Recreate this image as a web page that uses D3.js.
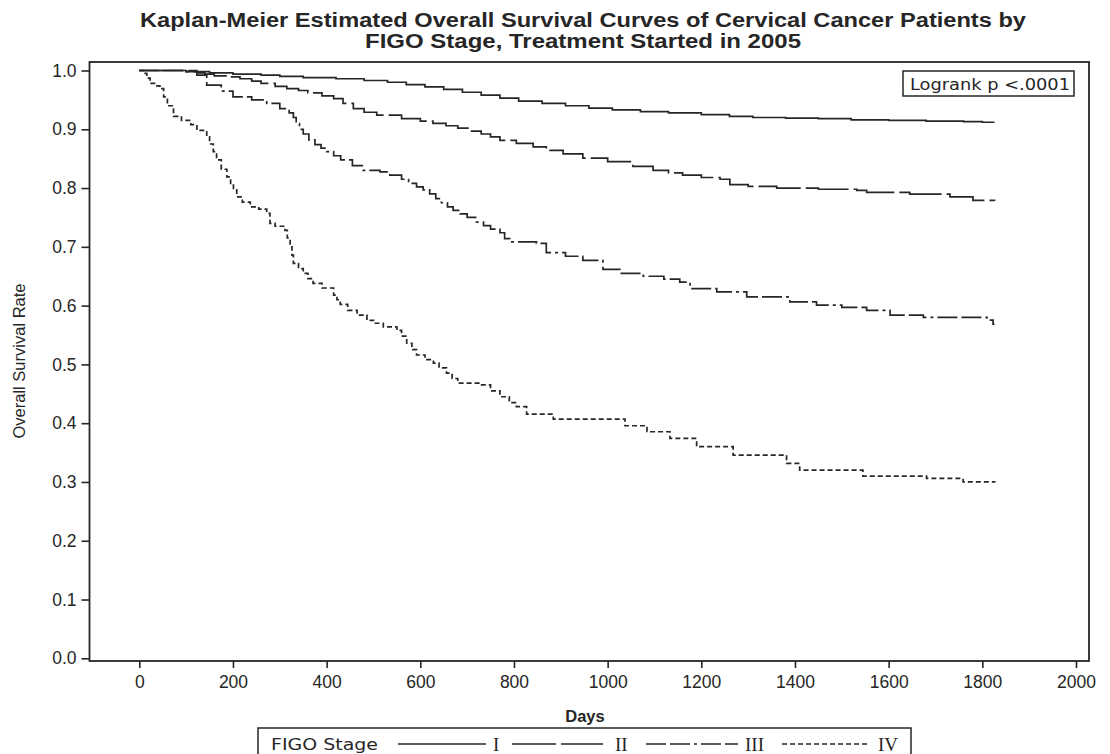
<!DOCTYPE html>
<html><head><meta charset="utf-8">
<script src="https://cdn.jsdelivr.net/npm/d3@7"></script>
<style>body{margin:0;background:#fff}svg{display:block}</style>
</head><body><svg id="c" width="1110" height="754"></svg>
<script>
// ---------------- data ----------------
const stages = ["I", "II", "III", "IV"];

const stageIDays = [0, 100, 150, 200, 260, 300, 350, 420, 480, 530, 570, 610, 650, 690, 730, 770, 810, 860, 910, 960, 1010, 1070, 1130, 1200, 1260, 1310, 1380, 1450, 1520, 1600, 1680, 1760, 1800, 1826];
const stageISurv = [1.0, 0.998, 0.996, 0.994, 0.992, 0.990, 0.988, 0.986, 0.983, 0.980, 0.976, 0.972, 0.968, 0.963, 0.958, 0.953, 0.948, 0.944, 0.940, 0.936, 0.933, 0.930, 0.928, 0.925, 0.922, 0.920, 0.919, 0.918, 0.916, 0.915, 0.914, 0.913, 0.912, 0.912];

const stageIIDays = [0, 123, 140, 160, 185, 215, 240, 260, 290, 315, 340, 360, 390, 415, 435, 457, 480, 507, 560, 600, 627, 655, 680, 705, 730, 750, 770, 805, 841, 869, 905, 947, 1000, 1054, 1097, 1130, 1160, 1200, 1240, 1261, 1300, 1361, 1450, 1532, 1553, 1645, 1731, 1780, 1826];
const stageIISurv = [1.0, 0.996, 0.994, 0.991, 0.989, 0.986, 0.982, 0.978, 0.973, 0.969, 0.966, 0.962, 0.957, 0.952, 0.944, 0.935, 0.929, 0.924, 0.918, 0.914, 0.910, 0.906, 0.902, 0.897, 0.892, 0.887, 0.881, 0.876, 0.870, 0.864, 0.858, 0.851, 0.845, 0.837, 0.830, 0.826, 0.822, 0.818, 0.815, 0.806, 0.803, 0.800, 0.798, 0.796, 0.7925, 0.7896, 0.785, 0.779, 0.778];

const stageIIIDays = [0, 100, 123, 144, 175, 200, 240, 272, 300, 320, 329, 335, 342, 350, 362, 375, 388, 400, 415, 430, 455, 478, 514, 535, 560, 575, 592, 606, 620, 633, 645, 658, 670, 685, 700, 718, 735, 750, 770, 780, 791, 848, 869, 910, 947, 990, 1026, 1076, 1120, 1154, 1176, 1233, 1297, 1389, 1446, 1500, 1553, 1603, 1674, 1810, 1823, 1826];
const stageIIISurv = [1.0, 0.998, 0.992, 0.975, 0.965, 0.955, 0.950, 0.944, 0.935, 0.928, 0.920, 0.910, 0.900, 0.892, 0.882, 0.874, 0.868, 0.862, 0.855, 0.848, 0.838, 0.830, 0.8275, 0.822, 0.815, 0.808, 0.802, 0.797, 0.790, 0.782, 0.775, 0.768, 0.762, 0.756, 0.750, 0.742, 0.736, 0.730, 0.724, 0.714, 0.7085, 0.706, 0.690, 0.684, 0.677, 0.6615, 0.655, 0.650, 0.645, 0.640, 0.629, 0.6235, 0.615, 0.6065, 0.601, 0.597, 0.592, 0.584, 0.580, 0.5753, 0.5685, 0.5685];

const stageIVDays = [0, 9, 16, 23, 35, 44, 52, 60, 73, 90, 110, 123, 144, 150, 158, 165, 175, 187, 195, 201, 208, 220, 237, 255, 272, 279, 290, 311, 316, 322, 326, 329, 340, 350, 360, 371, 390, 415, 422, 429, 445, 465, 486, 500, 521, 550, 560, 571, 582, 592, 610, 628, 640, 656, 668, 680, 727, 750, 770, 790, 805, 827, 884, 1037, 1084, 1133, 1190, 1268, 1382, 1410, 1545, 1681, 1759, 1828];
const stageIVSurv = [1.0, 0.995, 0.987, 0.978, 0.974, 0.969, 0.955, 0.940, 0.922, 0.915, 0.908, 0.898, 0.887, 0.875, 0.862, 0.848, 0.832, 0.819, 0.808, 0.797, 0.785, 0.776, 0.768, 0.764, 0.757, 0.740, 0.735, 0.728, 0.715, 0.700, 0.686, 0.672, 0.663, 0.655, 0.646, 0.638, 0.630, 0.618, 0.610, 0.602, 0.592, 0.584, 0.575, 0.570, 0.564, 0.558, 0.548, 0.536, 0.525, 0.516, 0.508, 0.502, 0.494, 0.485, 0.476, 0.468, 0.465, 0.455, 0.445, 0.435, 0.428, 0.4155, 0.407, 0.3956, 0.3854, 0.374, 0.360, 0.3457, 0.3316, 0.320, 0.310, 0.306, 0.300, 0.300];

const xTickValues = [0, 200, 400, 600, 800, 1000, 1200, 1400, 1600, 1800, 2000];
const yTickValues = [0, 0.1, 0.2, 0.3, 0.4, 0.5, 0.6, 0.7, 0.8, 0.9, 1.0];
const titleLines = ["Kaplan-Meier Estimated Overall Survival Curves of Cervical Cancer Patients by", "FIGO Stage, Treatment Started in 2005"];
const xTitle = "Days";
const yTitle = "Overall Survival Rate";
const legendTitle = "FIGO Stage";
const pValueText = "Logrank p <.0001";

// ---------------- drawing ----------------
const series = [
  {name: stages[0], days: stageIDays, surv: stageISurv, dash: null},
  {name: stages[1], days: stageIIDays, surv: stageIISurv, dash: "44,5"},
  {name: stages[2], days: stageIIIDays, surv: stageIIISurv, dash: "20,4,20,4,3,4"},
  {name: stages[3], days: stageIVDays, surv: stageIVSurv, dash: "5,3"}
];

const ink = "#262626";
const svg = d3.select("#c");
const frame = {l: 89.5, r: 1089, t: 62, b: 661};
const x = d3.scaleLinear().domain([0, 2000]).range([139.3, 1076]);
const y = d3.scaleLinear().domain([0, 1]).range([658.3, 70.5]);

// title
svg.append("g").selectAll("text").data(titleLines).join("text")
  .attr("x", 583).attr("y", (d, i) => 27 + i * 21)
  .attr("text-anchor", "middle")
  .attr("font-family", "Liberation Sans, Arial, sans-serif")
  .attr("font-weight", "bold").attr("font-size", 20)
  .attr("fill", ink)
  .attr("textLength", (d, i) => i === 0 ? 886 : 436)
  .attr("lengthAdjust", "spacingAndGlyphs")
  .text(d => d);

// axes
const yAxis = svg.append("g").attr("transform", `translate(${frame.l},0)`)
  .call(d3.axisLeft(y).tickValues(yTickValues).tickFormat(d3.format(".1f")).tickSize(8).tickPadding(5));
const xAxis = svg.append("g").attr("transform", `translate(0,${frame.b})`)
  .call(d3.axisBottom(x).tickValues(xTickValues).tickFormat(d3.format("d")).tickSize(7).tickPadding(8));
[yAxis, xAxis].forEach(g => {
  g.select(".domain").remove();
  g.selectAll("line").attr("stroke", ink).attr("stroke-width", 1.6);
  g.selectAll("text").attr("font-family", "Liberation Sans, Arial, sans-serif")
    .attr("font-size", 17.5).attr("fill", ink);
});

// frame
svg.append("rect").attr("x", frame.l).attr("y", frame.t)
  .attr("width", frame.r - frame.l).attr("height", frame.b - frame.t)
  .attr("fill", "none").attr("stroke", ink).attr("stroke-width", 1.8);

// axis titles
svg.append("text").attr("x", 585).attr("y", 722).attr("text-anchor", "middle")
  .attr("font-family", "Liberation Sans, Arial, sans-serif").attr("font-weight", "bold")
  .attr("font-size", 16.5).attr("fill", ink).text(xTitle);
svg.append("text").attr("transform", "translate(25,361) rotate(-90)").attr("text-anchor", "middle")
  .attr("font-family", "Liberation Sans, Arial, sans-serif")
  .attr("font-size", 16.5).attr("fill", ink).text(yTitle);

// curves
const line = d3.line().x(d => x(d[0])).y(d => y(d[1])).curve(d3.curveStepAfter);
svg.append("g").selectAll("path").data(series).join("path")
  .attr("d", s => line(s.days.map((d, i) => [d, s.surv[i]])))
  .attr("fill", "none").attr("stroke", ink).attr("stroke-width", 1.7)
  .attr("stroke-dasharray", s => s.dash);

// logrank box
const pg = svg.append("g");
pg.append("rect").attr("x", 903).attr("y", 71).attr("width", 171).attr("height", 25)
  .attr("fill", "#fff").attr("stroke", ink).attr("stroke-width", 1.5);
pg.append("text").attr("x", 910).attr("y", 90)
  .attr("font-family", "DejaVu Sans, sans-serif").attr("font-size", 16).attr("fill", ink)
  .attr("textLength", 160).attr("lengthAdjust", "spacingAndGlyphs").text(pValueText);

// legend
const lg = svg.append("g");
lg.append("rect").attr("x", 258).attr("y", 728).attr("width", 653).attr("height", 40)
  .attr("fill", "#fff").attr("stroke", ink).attr("stroke-width", 1.5);
lg.append("text").attr("x", 271).attr("y", 750)
  .attr("font-family", "DejaVu Sans, sans-serif").attr("font-size", 16.5).attr("fill", ink)
  .attr("textLength", 107).attr("lengthAdjust", "spacingAndGlyphs").text(legendTitle);
const legendItems = [
  {x0: 398, x1: 486, tx: 493},
  {x0: 512, x1: 603, tx: 615},
  {x0: 646, x1: 738, tx: 745},
  {x0: 782, x1: 868, tx: 878}
];
series.forEach((s, i) => {
  const it = legendItems[i];
  lg.append("line").attr("x1", it.x0).attr("x2", it.x1).attr("y1", 744).attr("y2", 744)
    .attr("stroke", ink).attr("stroke-width", 1.7).attr("stroke-dasharray", s.dash);
  lg.append("text").attr("x", it.tx).attr("y", 751)
    .attr("font-family", "Liberation Serif, serif").attr("font-size", 19).attr("fill", ink)
    .text(s.name);
});
</script></body></html>
